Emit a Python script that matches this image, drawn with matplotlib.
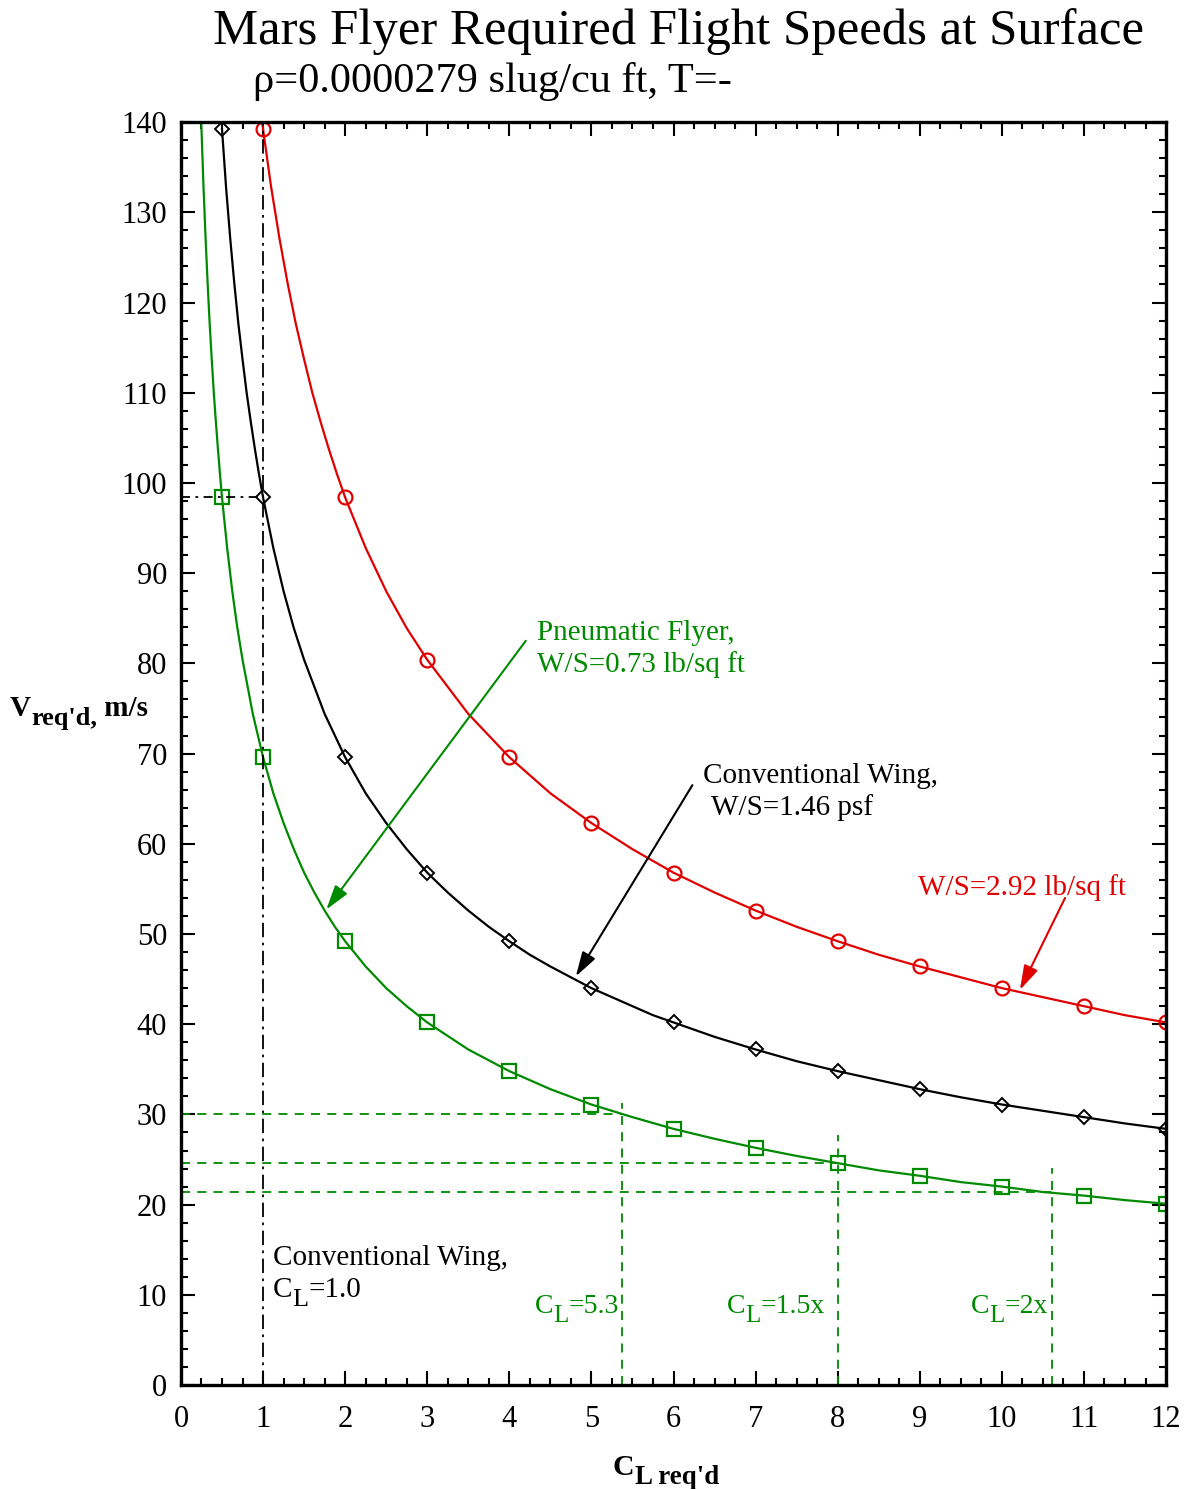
import matplotlib
matplotlib.use("Agg")
import matplotlib.pyplot as plt
from matplotlib.ticker import MultipleLocator

plt.rcParams['font.family'] = ['Liberation Serif', 'DejaVu Serif']

RED = '#e00000'
GREEN = '#008a00'

# marker points
cl_red = [1, 2, 3, 4, 5, 6, 7, 8, 9, 10, 11, 12]
v_red = [139.2, 98.4, 80.4, 69.6, 62.3, 56.8, 52.6, 49.2, 46.4, 44.0, 42.0, 40.2]
cl_pts = [0.5, 1, 2, 3, 4, 5, 6, 7, 8, 9, 10, 11, 12]
v_black = [139.2, 98.4, 69.6, 56.8, 49.2, 44.0, 40.2, 37.2, 34.8, 32.8, 31.1, 29.7, 28.4]
v_green = [98.4, 69.6, 49.2, 40.2, 34.8, 31.1, 28.4, 26.3, 24.6, 23.2, 22.0, 21.0, 20.1]

# points
cl_red_line = [0.99, 1.0, 1.1, 1.2, 1.3, 1.4, 1.5, 1.6, 1.7, 1.8, 1.9, 2.0, 2.25, 2.5,
               2.75, 3, 3.5, 4, 4.5, 5, 5.5, 6, 6.5, 7, 7.5, 8, 8.5, 9, 9.5, 10,
               10.5, 11, 11.5, 12]
v_red_line = [140.0, 139.2, 132.7, 127.1, 122.1, 117.6, 113.7, 110.0, 106.8, 103.8,
              101.0, 98.4, 92.8, 88.0, 83.9, 80.4, 74.4, 69.6, 65.6, 62.3, 59.4, 56.8,
              54.6, 52.6, 50.8, 49.2, 47.7, 46.4, 45.2, 44.0, 43.0, 42.0, 41.0, 40.2]
cl_blk_line = [0.5, 0.55, 0.6, 0.65, 0.7, 0.75, 0.8, 0.85, 0.9, 0.95, 1.0, 1.125, 1.25,
               1.375, 1.5, 1.75, 2, 2.25, 2.5, 2.75, 3, 3.25, 3.5, 3.75, 4, 4.25, 4.5,
               4.75, 5, 5.25, 5.5, 5.75, 6, 6.5, 7, 7.5, 8, 8.5, 9, 9.5, 10, 10.5,
               11, 11.5, 12]
v_blk_line = [139.2, 132.7, 127.1, 122.1, 117.6, 113.7, 110.0, 106.8, 103.8, 101.0,
              98.4, 92.8, 88.0, 83.9, 80.4, 74.4, 69.6, 65.6, 62.3, 59.4, 56.8, 54.6,
              52.6, 50.8, 49.2, 47.7, 46.4, 45.2, 44.0, 43.0, 42.0, 41.0, 40.2, 38.6,
              37.2, 35.9, 34.8, 33.8, 32.8, 31.9, 31.1, 30.4, 29.7, 29.0, 28.4]
cl_grn_line = [0.247, 0.25, 0.275, 0.3, 0.325, 0.35, 0.375, 0.4, 0.425, 0.45, 0.475,
               0.5, 0.5625, 0.625, 0.6875, 0.75, 0.875, 1.0, 1.125, 1.25, 1.375, 1.5,
               1.625, 1.75, 1.875, 2, 2.25, 2.5, 2.75, 3, 3.5, 4, 4.5, 5, 5.5, 6, 6.5,
               7, 7.5, 8, 8.5, 9, 9.5, 10, 10.5, 11, 11.5, 12]
v_grn_line = [140.0, 139.2, 132.7, 127.1, 122.1, 117.6, 113.7, 110.0, 106.8, 103.8,
              101.0, 98.4, 92.8, 88.0, 83.9, 80.4, 74.4, 69.6, 65.6, 62.3, 59.4, 56.8,
              54.6, 52.6, 50.8, 49.2, 46.4, 44.0, 42.0, 40.2, 37.2, 34.8, 32.8, 31.1,
              29.7, 28.4, 27.3, 26.3, 25.4, 24.6, 23.8, 23.2, 22.5, 22.0, 21.4, 21.0,
              20.5, 20.1]

# CL limits (green dashed guides)
cl_limits = [5.37, 8.0, 10.61]
v_limits = [30.1, 24.6, 21.4]
v_limit_tops = [31.3, 27.7, 24.1]

fig = plt.figure(figsize=(11.89, 14.89), dpi=100)
ax = fig.add_axes([0.1522, 0.0698, 0.8285, 0.8482])

ax.plot(cl_red_line, v_red_line, color=RED, lw=1.6)
ax.plot(cl_red, v_red, 'o', ms=10, mfc='none', mec=RED, mew=1.6)
ax.plot(cl_blk_line, v_blk_line, color='black', lw=1.6)
ax.plot(cl_pts, v_black, 'D', ms=7, mfc='none', mec='black', mew=1.4)
ax.plot(cl_grn_line, v_grn_line, color=GREEN, lw=1.6)
ax.plot(cl_pts, v_green, 's', ms=10, mfc='none', mec=GREEN, mew=1.6)

# conventional wing CL=1 guides
ax.plot([1, 1], [0, 140], color='black', lw=1.3, ls=(0, (8, 3, 1.5, 3)))
ax.plot([0, 1], [98.4, 98.4], color='black', lw=1.3, ls=(0, (5, 3, 1.5, 3)))

for c, v, top in zip(cl_limits, v_limits, v_limit_tops):
    ax.plot([0, c], [v, v], color=GREEN, lw=1.3, ls=(0, (5, 4)))
    ax.plot([c, c], [0, top], color=GREEN, lw=1.3, ls=(0, (5, 4)))

ax.set_xlim(0, 12)
ax.set_ylim(0, 140)
ax.xaxis.set_major_locator(MultipleLocator(1))
ax.xaxis.set_minor_locator(MultipleLocator(0.25))
ax.yaxis.set_major_locator(MultipleLocator(10))
ax.yaxis.set_minor_locator(MultipleLocator(2))
ax.tick_params(which='both', direction='in', top=True, right=True, width=1.5)
ax.tick_params(which='major', length=10, labelsize=22)
ax.tick_params(axis='x', pad=14)
ax.tick_params(axis='y', pad=10)
ax.tick_params(which='minor', length=5)
for s in ax.spines.values():
    s.set_linewidth(2.4)

# arrows + labels
arrow = dict(arrowstyle='-|>,head_length=1.0,head_width=0.3', lw=1.5, mutation_scale=15,
             shrinkA=0, shrinkB=0)
ax.annotate('', xy=(1.77, 52.7), xytext=(4.20, 82.5),
            arrowprops=dict(arrow, color=GREEN))
ax.annotate('', xy=(4.81, 45.3), xytext=(6.23, 66.5),
            arrowprops=dict(arrow, color='black'))
ax.annotate('', xy=(10.22, 43.8), xytext=(10.77, 54.0),
            arrowprops=dict(arrow, color=RED))

fs = 21
ax.text(4.34, 82.6, 'Pneumatic Flyer,', color=GREEN, fontsize=fs, va='baseline')
ax.text(4.34, 79.0, 'W/S=0.73 lb/sq ft', color=GREEN, fontsize=fs, va='baseline')
ax.text(6.36, 66.7, 'Conventional Wing,', color='black', fontsize=fs, va='baseline')
ax.text(6.46, 63.2, 'W/S=1.46 psf', color='black', fontsize=fs, va='baseline')
ax.text(8.98, 54.3, 'W/S=2.92 lb/sq ft', color=RED, fontsize=fs, va='baseline')
ax.text(1.12, 13.3, 'Conventional Wing,', color='black', fontsize=fs, va='baseline')

renderer = fig.canvas.get_renderer()


def sub_text(x, y, parts, color, size, trans, weight='normal'):
    # parts: (text, lowered?) drawn left to right
    dx = 0
    for s, low in parts:
        t = ax.annotate(s, xy=(x, y), xycoords=trans, xytext=(dx, -9 if low else 0),
                        textcoords='offset pixels', fontsize=size * 0.9 if low else size,
                        color=color, va='baseline', ha='left', weight=weight,
                        annotation_clip=False)
        dx += t.get_window_extent(renderer).width


sub_text(1.12, 9.75, [('C', False), ('L', True), ('=1.0', False)], 'black', fs, ax.transData)
sub_text(4.31, 8.0, [('C', False), ('L', True), ('=5.3', False)], GREEN, 20, ax.transData)
sub_text(6.65, 8.0, [('C', False), ('L', True), ('=1.5x', False)], GREEN, 20, ax.transData)
sub_text(9.62, 8.0, [('C', False), ('L', True), ('=2x', False)], GREEN, 20, ax.transData)

# axis labels
sub_text(10 / 1189, 1 - 716 / 1489, [('V', False), ("req'd,", True), (' m/s', False)],
         'black', 21, fig.transFigure, weight='bold')
sub_text(613 / 1189, 1 - 1475 / 1489, [('C', False), ("L req'd", True)],
         'black', 21.5, fig.transFigure, weight='bold')

fig.text(0.571, 1 - 44 / 1489, 'Mars Flyer Required Flight Speeds at Surface',
         fontsize=36.5, ha='center', va='baseline')
fig.text(253 / 1189, 1 - 92 / 1489, 'ρ=0.0000279 slug/cu ft, T=-',
         fontsize=30.5, ha='left', va='baseline')

fig.savefig('out.png', dpi=100)
